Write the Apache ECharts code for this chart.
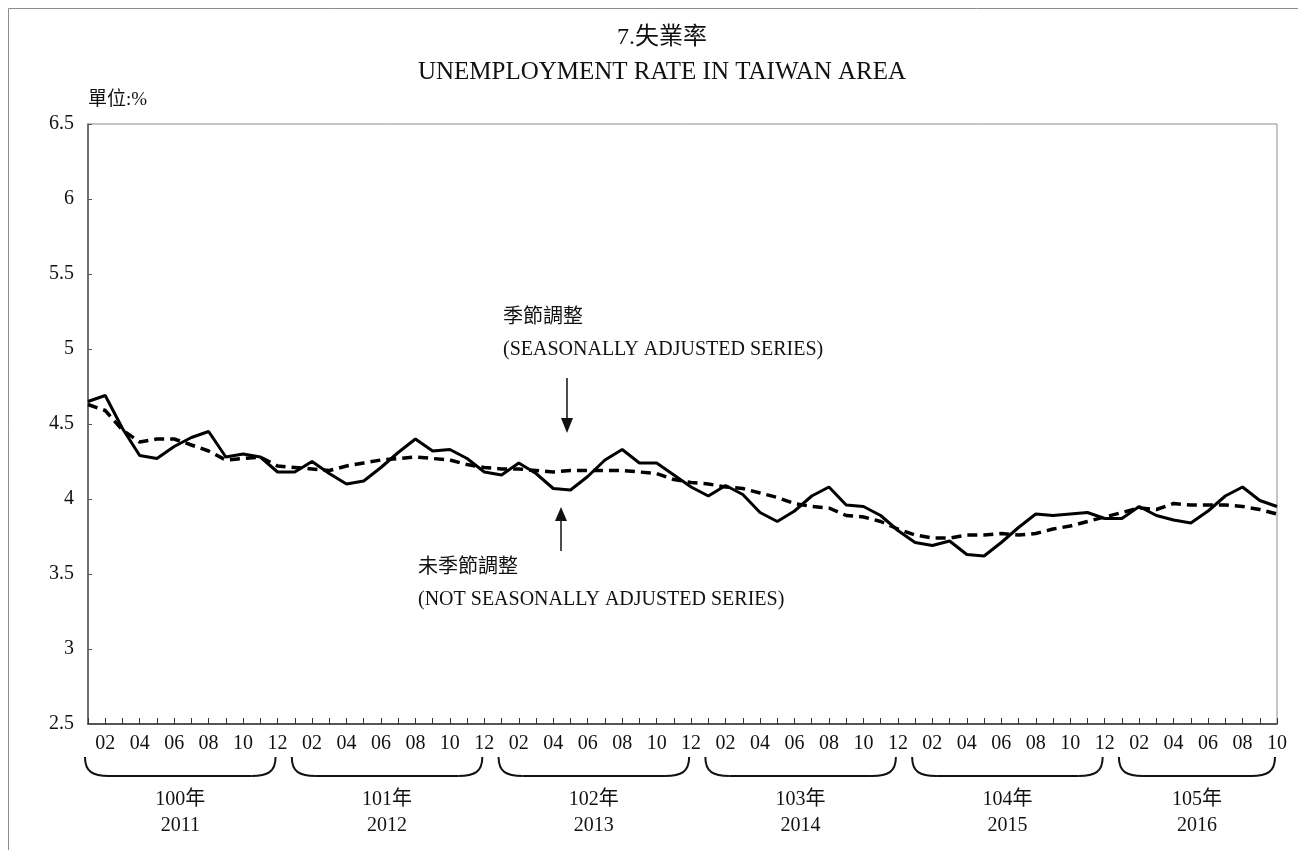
<!DOCTYPE html>
<html>
<head>
<meta charset="utf-8">
<script src="https://cdn.jsdelivr.net/npm/echarts@6/dist/echarts.min.js"></script>
<style>
html, body { margin: 0; padding: 0; background: #fff; }
#main { width: 1298px; height: 850px; }
</style>
</head>
<body>
<div id="main"></div>
<script>
const FONT = "'Liberation Serif', 'Noto Sans CJK TC', serif"

// 年份標籤 (民國 / 西元)
const rocYears = ['100年', '101年', '102年', '103年', '104年', '105年']
const adYears = ['2011', '2012', '2013', '2014', '2015', '2016']
// 月份刻度
const monthLabels = ['01', '02', '03', '04', '05', '06', '07', '08', '09', '10', '11', '12']
// 縱軸刻度
const yTicks = [2.5, 3, 3.5, 4, 4.5, 5, 5.5, 6, 6.5]

// 未季節調整 2011/01 ~ 2016/10
const notAdjusted = [
    4.65, 4.69, 4.47, 4.29, 4.27, 4.35, 4.41, 4.45, 4.28, 4.30, 4.28, 4.18,
    4.18, 4.25, 4.17, 4.10, 4.12, 4.21, 4.31, 4.40, 4.32, 4.33, 4.27, 4.18,
    4.16, 4.24, 4.17, 4.07, 4.06, 4.15, 4.26, 4.33, 4.24, 4.24, 4.16, 4.08,
    4.02, 4.09, 4.03, 3.91, 3.85, 3.92, 4.02, 4.08, 3.96, 3.95, 3.89, 3.79,
    3.71, 3.69, 3.72, 3.63, 3.62, 3.71, 3.81, 3.90, 3.89, 3.90, 3.91, 3.87,
    3.87, 3.95, 3.89, 3.86, 3.84, 3.92, 4.02, 4.08, 3.99, 3.95
]
// 季節調整
const adjusted = [
    4.63, 4.59, 4.46, 4.38, 4.40, 4.40, 4.36, 4.32, 4.26, 4.27, 4.28, 4.22,
    4.21, 4.20, 4.19, 4.22, 4.24, 4.26, 4.27, 4.28, 4.27, 4.26, 4.23, 4.21,
    4.20, 4.20, 4.19, 4.18, 4.19, 4.19, 4.19, 4.19, 4.18, 4.17, 4.13, 4.11,
    4.10, 4.08, 4.07, 4.04, 4.01, 3.97, 3.95, 3.94, 3.89, 3.88, 3.85, 3.80,
    3.76, 3.74, 3.74, 3.76, 3.76, 3.77, 3.76, 3.77, 3.80, 3.82, 3.85, 3.88,
    3.91, 3.94, 3.93, 3.97, 3.96, 3.96, 3.96, 3.95, 3.93, 3.90
]

const categories = notAdjusted.map((v, i) => adYears[Math.floor(i / 12)] + '-' + monthLabels[i % 12])

const chart = echarts.init(document.getElementById('main'))
chart.setOption({
    animation: false,
    textStyle: { fontFamily: FONT },
    grid: {
        left: 88, right: 21, top: 124, bottom: 126,
        show: true, borderColor: '#8c8c8c', borderWidth: 1
    },
    xAxis: {
        type: 'category',
        data: categories,
        boundaryGap: false,
        axisLine: { lineStyle: { color: '#333', width: 1.5 } },
        axisTick: { inside: true, length: 6, interval: 0, lineStyle: { color: '#333' } },
        axisLabel: {
            interval: (idx) => idx % 2 === 1,
            formatter: (val) => val.split('-')[1],
            color: '#111', fontSize: 20, fontFamily: FONT, margin: 10
        },
        splitLine: { show: false }
    },
    yAxis: {
        type: 'value',
        min: yTicks[0],
        max: yTicks[yTicks.length - 1],
        interval: 0.5,
        axisLine: { show: true, lineStyle: { color: '#555', width: 1.5 } },
        axisTick: { show: true, inside: true, length: 4, lineStyle: { color: '#555' } },
        axisLabel: { color: '#111', fontSize: 20, fontFamily: FONT, margin: 14 },
        splitLine: { show: false }
    },
    series: [
        {
            name: '季節調整',
            type: 'line',
            data: adjusted,
            symbol: 'none',
            lineStyle: { color: '#000', width: 3.5, type: [10, 6] },
            z: 2
        },
        {
            name: '未季節調整',
            type: 'line',
            data: notAdjusted,
            symbol: 'none',
            lineStyle: { color: '#000', width: 3 },
            z: 3
        }
    ]
})

const txt = (x, y, text, size, align) => ({
    type: 'text', x, y,
    style: { text, font: size + 'px ' + FONT, fill: '#111', textAlign: align || 'left', textVerticalAlign: 'middle' }
})

const graphics = [
    { type: 'rect', shape: { x: 8.5, y: 8.5, width: 1400, height: 900 }, style: { fill: 'none', stroke: '#8c8c8c', lineWidth: 1 }, silent: true },
    txt(662, 38, '7.失業率', 24, 'center'),
    txt(662, 72, 'UNEMPLOYMENT RATE IN TAIWAN AREA', 25, 'center'),
    txt(88, 100, '單位:%', 19),
    txt(503, 318, '季節調整', 20),
    txt(503, 350, '(SEASONALLY ADJUSTED SERIES)', 20),
    txt(418, 568, '未季節調整', 20),
    txt(418, 600, '(NOT SEASONALLY ADJUSTED SERIES)', 20),
    // 箭頭
    { type: 'line', shape: { x1: 567, y1: 378, x2: 567, y2: 420 }, style: { stroke: '#111', lineWidth: 1.5 } },
    { type: 'polygon', shape: { points: [[561, 418], [573, 418], [567, 433]] }, style: { fill: '#111' } },
    { type: 'line', shape: { x1: 561, y1: 551, x2: 561, y2: 520 }, style: { stroke: '#111', lineWidth: 1.5 } },
    { type: 'polygon', shape: { points: [[555, 521], [567, 521], [561, 507]] }, style: { fill: '#111' } }
]

// 年份括號與標籤
const toX = (idx) => chart.convertToPixel({ xAxisIndex: 0 }, idx)
const braceStyle = { fill: 'none', stroke: '#111', lineWidth: 2 }
adYears.forEach((year, i) => {
    const first = i * 12,
        last = Math.min(i * 12 + 11, categories.length - 1),
        x0 = toX(first) - 3,
        x1 = toX(last) - 2,
        top = 757, bottom = 776, r = 24
    graphics.push({
        type: 'bezierCurve',
        shape: { x1: x0, y1: top, cpx1: x0, cpy1: bottom - 4, cpx2: x0 + 8, cpy2: bottom, x2: x0 + r, y2: bottom },
        style: braceStyle
    })
    graphics.push({
        type: 'line',
        shape: { x1: x0 + r, y1: bottom, x2: x1 - r, y2: bottom },
        style: braceStyle
    })
    graphics.push({
        type: 'bezierCurve',
        shape: { x1: x1 - r, y1: bottom, cpx1: x1 - 8, cpy1: bottom, cpx2: x1, cpy2: bottom - 4, x2: x1, y2: top },
        style: braceStyle
    })
    const cx = (x0 + x1) / 2
    graphics.push(txt(cx, 800, rocYears[i], 20, 'center'))
    graphics.push(txt(cx, 826, year, 20, 'center'))
})
chart.setOption({ graphic: graphics })
</script>
</body>
</html>
